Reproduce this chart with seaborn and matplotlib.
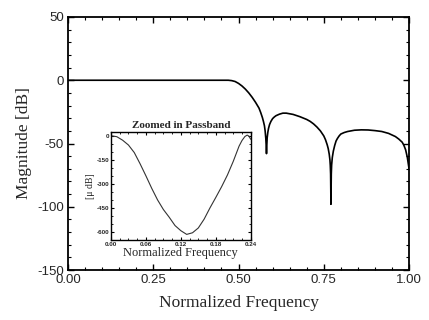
import numpy as np
import pandas as pd
import matplotlib
matplotlib.use("Agg")
import matplotlib.pyplot as plt
import seaborn as sns
from matplotlib.ticker import MultipleLocator, FixedLocator

# ---- data ----
main_freq = [0.00, 0.10, 0.20, 0.30, 0.40, 0.45, 0.47, 0.48, 0.49, 0.50, 0.51, 0.52,
             0.53, 0.54, 0.55, 0.56, 0.565, 0.57, 0.573, 0.576, 0.578, 0.580, 0.581,
             0.582, 0.583, 0.584, 0.586, 0.588, 0.591, 0.595, 0.600, 0.605, 0.61,
             0.62, 0.63, 0.64, 0.65, 0.66, 0.68, 0.70, 0.71, 0.72, 0.73, 0.74, 0.75,
             0.755, 0.76, 0.763, 0.766, 0.768, 0.769, 0.770, 0.771, 0.772, 0.773,
             0.775, 0.778, 0.782, 0.786, 0.79, 0.795, 0.80, 0.81, 0.82, 0.84, 0.86,
             0.88, 0.90, 0.92, 0.94, 0.96, 0.97, 0.98, 0.985, 0.99, 0.995, 1.00]
main_db = [0, 0, 0, 0, 0, 0, 0, -0.3, -1, -2.5, -4.5, -7,
           -10, -13.5, -17.5, -22, -25.5, -29.5, -32.5, -36, -40, -46, -51,
           -58, -51, -45.5, -41, -38, -35, -32.5, -30.3, -29, -28,
           -26.8, -26, -26, -26.5, -27, -28.8, -31, -32.5, -34.5, -37, -40, -44,
           -47, -51, -54, -58.5, -63, -67, -74, -98, -74, -67,
           -61, -56, -51.5, -48, -46, -44, -42.5, -41.3, -40.5, -39.5, -39.2,
           -39.3, -39.8, -40.5, -42, -44.5, -46.5, -49, -51.5, -55, -61, -70]

zoom_freq = [0.000, 0.010, 0.020, 0.030, 0.040, 0.050, 0.060, 0.070, 0.080, 0.090,
             0.100, 0.110, 0.120, 0.130, 0.140, 0.150, 0.160, 0.170, 0.180, 0.190,
             0.200, 0.210, 0.220, 0.225, 0.230, 0.234, 0.237, 0.240]
zoom_udb = [0, -6, -28, -58, -105, -175, -250, -328, -400, -460,
            -508, -560, -592, -615, -605, -575, -520, -450, -385, -318,
            -245, -160, -65, -30, -5, 4, -3, -22]

main_xticks = [0.00, 0.25, 0.50, 0.75, 1.00]
main_yticks = [50, 0, -50, -100, -150]
zoom_xticks = [0.00, 0.06, 0.12, 0.18, 0.24]
zoom_yticks = [0, -150, -300, -450, -600]

main_df = pd.DataFrame({"f": main_freq, "db": main_db})
zoom_df = pd.DataFrame({"f": zoom_freq, "db": zoom_udb})

sns.set_style("ticks")
plt.rcParams["font.family"] = ["Liberation Sans", "DejaVu Sans"]
plt.rcParams["axes.unicode_minus"] = False
plt.rcParams["xtick.direction"] = "in"
plt.rcParams["ytick.direction"] = "in"

fig = plt.figure(figsize=(4.29, 3.2), dpi=100)
ax = fig.add_axes([0.1585, 0.156, 0.795, 0.791])

sns.lineplot(data=main_df, x="f", y="db", ax=ax, color="black", linewidth=1.2,
             sort=False, estimator=None)
ax.set_xlim(0, 1)
ax.set_ylim(-150, 50)
ax.xaxis.set_major_locator(FixedLocator(main_xticks))
ax.yaxis.set_major_locator(FixedLocator(main_yticks))
ax.xaxis.set_minor_locator(MultipleLocator(0.05))
ax.yaxis.set_minor_locator(MultipleLocator(10))
ax.set_xticklabels([f"{v:.2f}" for v in main_xticks])
ax.set_yticklabels([str(v) for v in main_yticks])
ax.tick_params(which="both", top=True, right=True, direction="in", color="black")
ax.tick_params(which="major", length=4, width=1.0, labelsize=9.5, pad=3)
ax.tick_params(which="minor", length=2, width=0.8)
for s in ax.spines.values():
    s.set_linewidth(1.3)
    s.set_color("black")
ax.set_xlabel("Normalized Frequency", family=["Liberation Serif"], fontsize=12.5,
              labelpad=6)
ax.set_ylabel("Magnitude [dB]", family=["Liberation Serif"], fontsize=12.5,
              labelpad=4)

# inset
ins = fig.add_axes([0.2587, 0.25, 0.3257, 0.3384])
sns.lineplot(data=zoom_df, x="f", y="db", ax=ins, color="#333333", linewidth=0.8,
             sort=False, estimator=None)
ins.set_xlim(0, 0.24)
ins.set_ylim(-650, 25)
ins.xaxis.set_major_locator(FixedLocator(zoom_xticks))
ins.yaxis.set_major_locator(FixedLocator(zoom_yticks))
ins.xaxis.set_minor_locator(MultipleLocator(0.015))
ins.yaxis.set_minor_locator(MultipleLocator(50))
ins.set_xticklabels([f"{v:.2f}" for v in zoom_xticks])
ins.set_yticklabels([str(v) for v in zoom_yticks])
ins.tick_params(which="both", top=True, right=True, direction="in", color="black")
ins.tick_params(which="major", length=2.5, width=0.8, labelsize=4.5, pad=1.5)
ins.tick_params(which="minor", length=1.2, width=0.6)
for lab in ins.get_xticklabels() + ins.get_yticklabels():
    lab.set_fontweight("bold")
for s in ins.spines.values():
    s.set_linewidth(1.0)
    s.set_color("black")
ins.set_title("Zoomed in Passband", family=["Liberation Serif"], fontsize=8,
              fontweight="bold", pad=3)
ins.set_xlabel("Normalized Frequency", family=["Liberation Serif"], fontsize=9,
               labelpad=0)
ins.set_ylabel("[\u03bc dB]", family=["Liberation Serif"], fontsize=7, labelpad=1)

fig.savefig("out.png", dpi=100)
